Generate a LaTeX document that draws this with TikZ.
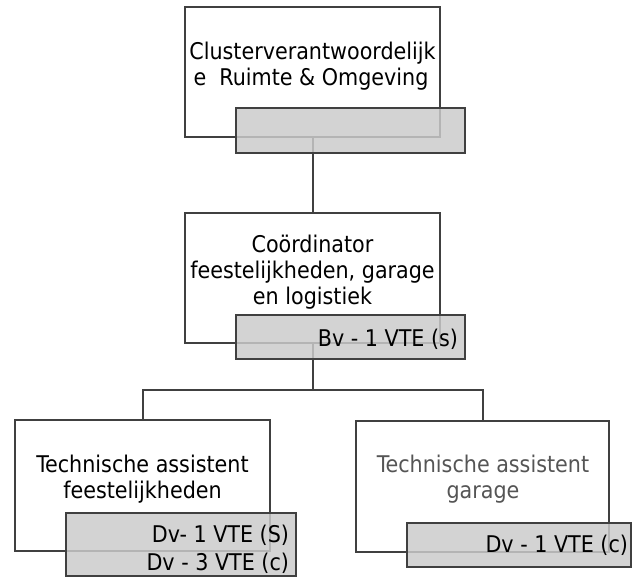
\documentclass[tikz,border=0pt]{standalone}
\usepackage{fontspec}
\setmainfont{DejaVu Sans Condensed}
\begin{document}
\begin{tikzpicture}[x=1pt,y=-1pt,
  every node/.style={inner sep=0pt, outer sep=0pt, font=\fontsize{23pt}{26pt}\selectfont},
  unitbox/.style={draw=lineclr, line width=2pt, fill=white, minimum width=#1},
  unitbox/.default=255pt,
  tagbox/.style={draw=lineclr, line width=2pt, fill=tagclr, fill opacity=0.84},
  link/.style={draw=lineclr, line width=2pt},
  ln/.style={anchor=base},
  tag/.style={anchor=base east}]
\definecolor{lineclr}{HTML}{404040}
\definecolor{tagclr}{HTML}{CBCBCB}
\definecolor{softtext}{HTML}{555555}
\useasboundingbox (0,0) rectangle (632,576);

% white unit boxes
\node[unitbox, minimum height=130pt] (b1) at (312.5,72) {};
\node[unitbox, minimum height=130pt] (b2) at (312.5,278) {};
\node[unitbox, minimum height=131pt] (b3) at (142.5,485.5) {};
\node[unitbox=253pt, minimum height=131pt] (b4) at (482.5,486) {};

% hierarchy lines
\draw[link] (b1.south) -- (b2.north);
\coordinate (split) at (312.5,390);
\draw[link] (b2.south) -- (split) -| (b3.north);
\draw[link] (split) -| (b4.north);

% staffing tags (semi-transparent)
\node[tagbox, minimum width=229pt, minimum height=45pt] (g1) at (350.5,130.5) {};
\node[tagbox, minimum width=229pt, minimum height=44pt] (g2) at (350.5,337) {};
\node[tagbox, minimum width=230pt, minimum height=63pt] (g3) at (181,544.5) {};
\node[tagbox, minimum width=224pt, minimum height=44pt] (g4) at (519,545) {};

% unit titles
\node[ln] (t1a) at (312.5,59) {Clusterverantwoordelijk};
\node[ln] (t1b) at (311,85) {e~~Ruimte \& Omgeving};
\node[ln] (t2a) at (312.5,252) {Coördinator};
\node[ln] (t2b) at (312.5,278) {feestelijkheden, garage};
\node[ln] (t2c) at (312.5,304) {en logistiek};
\node[ln] (t3a) at (142.5,472) {Technische assistent};
\node[ln] (t3b) at (142.5,498) {feestelijkheden};
\node[ln, text=softtext] (t4a) at (483,472) {Technische assistent};
\node[ln, text=softtext] (t4b) at (483,498) {garage};

% staffing labels
\node[tag] (s2) at (458,346) {Bv - 1 VTE (s)};
\node[tag] (s3a) at (289,542) {Dv- 1 VTE (S)};
\node[tag] (s3b) at (289,570) {Dv - 3 VTE (c)};
\node[tag] (s4) at (628,552) {Dv - 1 VTE (c)};
\end{tikzpicture}
\end{document}
